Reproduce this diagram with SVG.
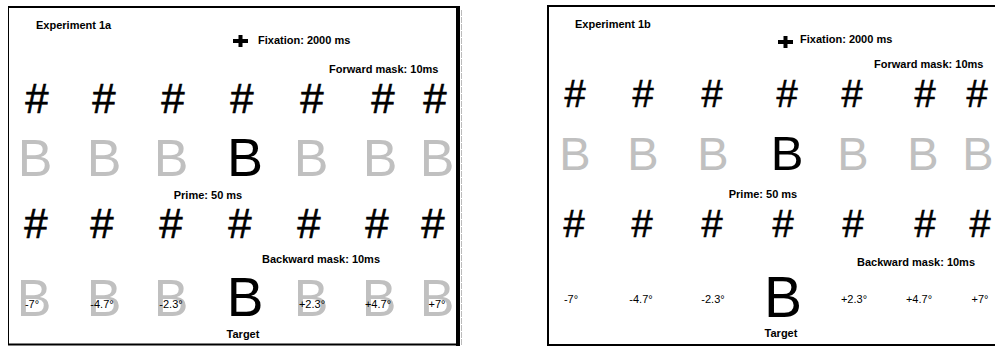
<svg xmlns="http://www.w3.org/2000/svg" width="995" height="347" viewBox="0 0 995 347">
<style>
.lbl{font-family:"Liberation Sans",Arial,sans-serif;font-weight:bold;font-size:11px;fill:#000}
.deg{font-family:"Liberation Sans",Arial,sans-serif;font-size:11px;fill:#000;text-anchor:middle}
.h{font-family:"Liberation Sans",Arial,sans-serif;font-size:42px;fill:#000;stroke:#000;stroke-width:0.6;text-anchor:middle}
.hr{font-family:"Liberation Sans",Arial,sans-serif;font-size:38px;fill:#000;stroke:#000;stroke-width:0.6;text-anchor:middle}
.g{font-family:"Liberation Sans",Arial,sans-serif;font-size:52px;fill:#c0c0c0;text-anchor:middle}
.gr{font-family:"Liberation Sans",Arial,sans-serif;font-size:47px;fill:#c0c0c0;text-anchor:middle}
.k{font-family:"Liberation Sans",Arial,sans-serif;fill:#000;text-anchor:middle}
.mid{text-anchor:middle}
</style>
<rect width="995" height="347" fill="#fff"/>
<g id="panel-1a">
  <g id="frame-1a">
    <line x1="8.5" y1="6" x2="8.5" y2="345" stroke="#000" stroke-width="1"/>
    <line x1="8" y1="7" x2="460" y2="7" stroke="#000" stroke-width="2"/>
    <line x1="8" y1="344.5" x2="460" y2="344.5" stroke="#000" stroke-width="2"/>
    <line x1="458" y1="6" x2="458" y2="346" stroke="#000" stroke-width="4"/>
    <line x1="461.5" y1="10" x2="461.5" y2="346" stroke="#bbb" stroke-width="1" stroke-dasharray="6 1"/>
  </g>
  <text id="title-1a" class="lbl" x="36" y="29">Experiment 1a</text>
  <g id="fixation-1a">
    <rect x="233" y="39" width="15" height="4" fill="#000"/>
    <rect x="238.5" y="35" width="4" height="12" fill="#000"/>
    <text class="lbl" x="258" y="44">Fixation: 2000 ms</text>
  </g>
  <g id="forward-mask-1a">
    <text class="lbl" x="329" y="73">Forward mask: 10ms</text>
    <text class="h" x="37" y="113">#</text>
    <text class="h" x="104" y="113">#</text>
    <text class="h" x="173" y="113">#</text>
    <text class="h" x="242" y="113">#</text>
    <text class="h" x="312" y="113">#</text>
    <text class="h" x="383" y="113">#</text>
    <text class="h" x="435" y="113">#</text>
  </g>
  <g id="prime-1a">
    <text class="g" x="35" y="176">B</text>
    <text class="g" x="104" y="176">B</text>
    <text class="g" x="171" y="176">B</text>
    <text class="k" x="245" y="176" font-size="54">B</text>
    <text class="g" x="311" y="176">B</text>
    <text class="g" x="380" y="176">B</text>
    <text class="g" x="437" y="176">B</text>
    <text class="lbl mid" x="208" y="199">Prime: 50 ms</text>
  </g>
  <g id="backward-mask-1a">
    <text class="h" x="36" y="238">#</text>
    <text class="h" x="102" y="238">#</text>
    <text class="h" x="171" y="238">#</text>
    <text class="h" x="240" y="238">#</text>
    <text class="h" x="309" y="238">#</text>
    <text class="h" x="377" y="238">#</text>
    <text class="h" x="433" y="238">#</text>
    <text class="lbl" x="262" y="263">Backward mask: 10ms</text>
  </g>
  <g id="target-1a">
    <text class="g" x="34" y="316">B</text>
    <text class="g" x="104" y="316">B</text>
    <text class="g" x="171" y="316">B</text>
    <text class="k" x="245" y="316" font-size="55">B</text>
    <text class="g" x="311" y="316">B</text>
    <text class="g" x="379" y="316">B</text>
    <text class="g" x="437" y="316">B</text>
    <text class="deg" x="32" y="308">-7°</text>
    <text class="deg" x="102" y="308">-4.7°</text>
    <text class="deg" x="171" y="308">-2.3°</text>
    <text class="deg" x="312" y="308">+2.3°</text>
    <text class="deg" x="378" y="308">+4.7°</text>
    <text class="deg" x="437" y="308">+7°</text>
    <text class="lbl mid" x="243" y="338">Target</text>
  </g>
</g>
<g id="panel-1b">
  <g id="frame-1b">
    <line x1="548" y1="5" x2="548" y2="346" stroke="#000" stroke-width="2"/>
    <line x1="547" y1="6" x2="995" y2="6" stroke="#000" stroke-width="2"/>
    <line x1="547" y1="345" x2="995" y2="345" stroke="#000" stroke-width="2"/>
  </g>
  <text id="title-1b" class="lbl" x="575" y="28">Experiment 1b</text>
  <g id="fixation-1b">
    <rect x="778" y="40" width="15" height="4" fill="#000"/>
    <rect x="783.5" y="36" width="4" height="12" fill="#000"/>
    <text class="lbl" x="800" y="43">Fixation: 2000 ms</text>
  </g>
  <g id="forward-mask-1b">
    <text class="lbl" x="874" y="68">Forward mask: 10ms</text>
    <text class="hr" x="575" y="107">#</text>
    <text class="hr" x="643" y="107">#</text>
    <text class="hr" x="712" y="107">#</text>
    <text class="hr" x="787" y="107">#</text>
    <text class="hr" x="852" y="107">#</text>
    <text class="hr" x="925" y="107">#</text>
    <text class="hr" x="977" y="107">#</text>
  </g>
  <g id="prime-1b">
    <text class="gr" x="575" y="170">B</text>
    <text class="gr" x="643" y="170">B</text>
    <text class="gr" x="713" y="170">B</text>
    <text class="k" x="787" y="170" font-size="49">B</text>
    <text class="gr" x="853" y="170">B</text>
    <text class="gr" x="923" y="170">B</text>
    <text class="gr" x="978" y="170">B</text>
    <text class="lbl mid" x="763" y="198">Prime: 50 ms</text>
  </g>
  <g id="backward-mask-1b">
    <text class="hr" x="574" y="237">#</text>
    <text class="hr" x="642" y="237">#</text>
    <text class="hr" x="712" y="237">#</text>
    <text class="hr" x="783" y="237">#</text>
    <text class="hr" x="853" y="237">#</text>
    <text class="hr" x="925" y="237">#</text>
    <text class="hr" x="980" y="237">#</text>
    <text class="lbl" x="857" y="266">Backward mask: 10ms</text>
  </g>
  <g id="target-1b">
    <text class="k" x="783" y="317" font-size="57">B</text>
    <text class="deg" x="571" y="303">-7°</text>
    <text class="deg" x="641" y="303">-4.7°</text>
    <text class="deg" x="713" y="303">-2.3°</text>
    <text class="deg" x="854" y="303">+2.3°</text>
    <text class="deg" x="919" y="303">+4.7°</text>
    <text class="deg" x="980" y="303">+7°</text>
    <text class="lbl mid" x="781" y="337">Target</text>
  </g>
</g>
</svg>
